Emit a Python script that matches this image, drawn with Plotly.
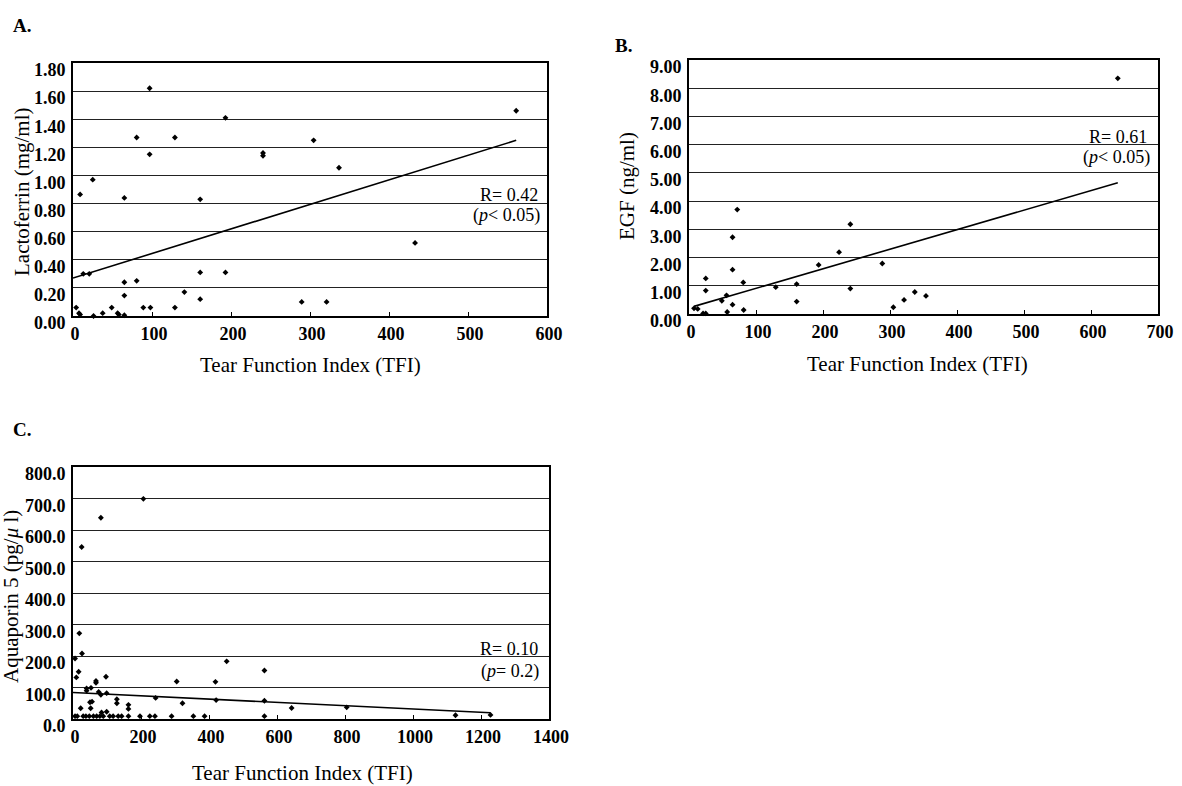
import plotly.graph_objects as go

# ---------------- Data ----------------
# Panel A: Lactoferrin vs TFI
a_tfi = [4, 7.6, 9, 9, 13, 20.6, 25, 26, 37.6, 49, 56.5, 58, 65, 65, 65, 65, 80.6, 80.6, 89, 97, 97, 98,
         129, 129, 141, 161, 161, 161, 193, 193, 240.5, 240.5, 304.6, 336.7, 433, 561, 289.5, 321]
a_lacto = [0.06, 0.02, 0.01, 0.865, 0.30, 0.30, 0.97, 0.00, 0.02, 0.06, 0.02, 0.01, 0.84, 0.24, 0.145, 0.005,
           1.27, 0.25, 0.06, 1.62, 1.15, 0.06, 1.27, 0.06, 0.17, 0.83, 0.31, 0.12, 1.41, 0.31, 1.16, 1.14,
           1.25, 1.055, 0.52, 1.46, 0.10, 0.10]
a_fit_x = [0, 561]
a_fit_y = [0.27, 1.25]

# Panel B: EGF vs TFI
b_tfi = [7.5, 13, 21, 25, 25, 25, 49, 56, 57, 65, 65, 65, 72, 81, 81.6, 129.5, 160.7, 160.7, 193.5, 224,
         240.8, 240.8, 288.5, 305, 321, 337, 353.7, 640]
b_egf = [0.20, 0.18, 0.02, 0.02, 1.26, 0.83, 0.47, 0.66, 0.07, 2.72, 1.57, 0.33, 3.70, 1.12, 0.14, 0.95,
         1.06, 0.44, 1.74, 2.19, 3.18, 0.90, 1.79, 0.24, 0.50, 0.78, 0.64, 8.35]
b_fit_x = [7.5, 640]
b_fit_y = [0.27, 4.65]

# Panel C: Aquaporin 5 vs TFI
c_tfi = [207, 82, 25.5, 18.6, 26.5, 6, 16.6, 9.8, 97, 67.6, 67.6, 40, 40, 53, 75.5, 82, 99, 56, 50, 52, 22.6,
         129, 129, 163, 163, 84, 99,
         6, 12.6, 30, 38, 48, 60, 69.6, 79, 89, 108, 118, 133, 143, 163, 197, 226, 241, 290, 354, 387,
         243, 305, 322, 419, 421, 452, 563, 563, 563, 643, 805, 1125, 1228]
c_aqp5 = [699, 639, 546, 272, 208, 192, 150, 132, 134, 121, 115, 97, 90, 99, 86, 77, 82, 55, 53, 34, 34,
          63, 50, 45, 32, 21, 23,
          9, 9, 9, 9, 9, 9, 9, 9, 9, 9, 9, 9, 9, 9, 9, 9, 9, 9, 9, 9,
          67, 119, 50, 118, 60, 183, 154, 58, 9, 35, 37, 12, 13]
c_fit_x = [0, 1228]
c_fit_y = [84, 20]

FONT = "Liberation Serif"
W, H = 1182, 786


def px(x):
    return x / W


def py(y):
    return 1 - y / H


fig = go.Figure()

panels = [
    dict(x=a_tfi, y=a_lacto, fx=a_fit_x, fy=a_fit_y, xa="x", ya="y"),
    dict(x=b_tfi, y=b_egf, fx=b_fit_x, fy=b_fit_y, xa="x2", ya="y2"),
    dict(x=c_tfi, y=c_aqp5, fx=c_fit_x, fy=c_fit_y, xa="x3", ya="y3"),
]
for p in panels:
    fig.add_trace(go.Scatter(x=p["fx"], y=p["fy"], mode="lines", line=dict(color="black", width=1.6),
                             xaxis=p["xa"], yaxis=p["ya"], showlegend=False, hoverinfo="skip"))
    fig.add_trace(go.Scatter(x=p["x"], y=p["y"], mode="markers",
                             marker=dict(symbol="diamond", size=4.5, color="black"),
                             xaxis=p["xa"], yaxis=p["ya"], showlegend=False, cliponaxis=False))

tickfont = dict(family=FONT, size=18, color="black", weight="bold")


def xax(domain, rng, dtick, anchor):
    return dict(domain=domain, range=rng, dtick=dtick, tick0=0, anchor=anchor, automargin=False,
                showline=True, linecolor="black", linewidth=2, mirror=True,
                showgrid=False, zeroline=False, ticks="inside", ticklen=4, tickcolor="black",
                tickfont=tickfont, ticklabelshift=2, fixedrange=True)


def yax(domain, rng, dtick, fmt, anchor):
    return dict(domain=domain, range=rng, dtick=dtick, tick0=0, anchor=anchor, tickformat=fmt,
                automargin=False,
                showline=True, linecolor="black", linewidth=2, mirror=True,
                showgrid=True, gridcolor="#222222", gridwidth=1, zeroline=False, ticks="",
                tickfont=tickfont, ticklabelstandoff=2, ticklabelshift=7, fixedrange=True)


fig.update_layout(
    width=W, height=H, margin=dict(l=0, r=0, t=0, b=0, pad=0, autoexpand=False),
    paper_bgcolor="white", plot_bgcolor="white",
    font=dict(family=FONT, color="black"),
    xaxis=xax([px(73), px(547)], [0, 600], 100, "y"),
    yaxis=yax([py(316), py(63)], [0, 1.8], 0.2, ".2f", "x"),
    xaxis2=xax([px(689), px(1158)], [0, 700], 100, "y2"),
    yaxis2=yax([py(314), py(60)], [0, 9], 1, ".2f", "x2"),
    xaxis3=xax([px(73), px(549)], [0, 1400], 200, "y3"),
    yaxis3=yax([py(719), py(467)], [0, 800], 100, ".1f", "x3"),
)

ann = []


def text(x, y, s, size=21, angle=0, xanchor="center", bold=False):
    ann.append(dict(x=px(x), y=py(y), xref="paper", yref="paper", text=s, showarrow=False,
                    xanchor=xanchor, yanchor="middle", textangle=angle, borderpad=0,
                    font=dict(family=FONT, size=size, color="black", weight="bold" if bold else "normal")))


# Panel letters
text(22, 25, "A.", size=19, bold=True)
text(623, 45, "B.", size=19, bold=True)
text(22, 430, "C.", size=19, bold=True)

# Axis titles
text(310, 365, "Tear Function Index (TFI)")
text(917, 364, "Tear Function Index (TFI)")
text(302, 773, "Tear Function Index (TFI)")
text(22, 192, "Lactoferrin (mg/ml)", angle=-90)
text(627, 186, "EGF (ng/ml)", angle=-90)
text(11, 597, "Aquaporin 5 (pg/<i>μ</i> l)", angle=-90)

# Correlation notes
text(539, 195, "R= 0.42", size=18, xanchor="right")
text(541, 215, "(<i>p</i>< 0.05)", size=18, xanchor="right")
text(1148, 137, "R= 0.61", size=18, xanchor="right")
text(1151, 158, "(<i>p</i>< 0.05)", size=18, xanchor="right")
text(539, 649, "R= 0.10", size=18, xanchor="right")
text(540, 671, "(<i>p</i>= 0.2)", size=18, xanchor="right")

fig.update_layout(annotations=ann)

fig.write_html(
    "out.html",
    config={"displayModeBar": False},
    post_script=("document.documentElement.style.margin='0';document.documentElement.style.overflow='hidden';"
                 "document.body.style.margin='0';document.body.style.padding='0';document.body.style.overflow='hidden';"),
)
